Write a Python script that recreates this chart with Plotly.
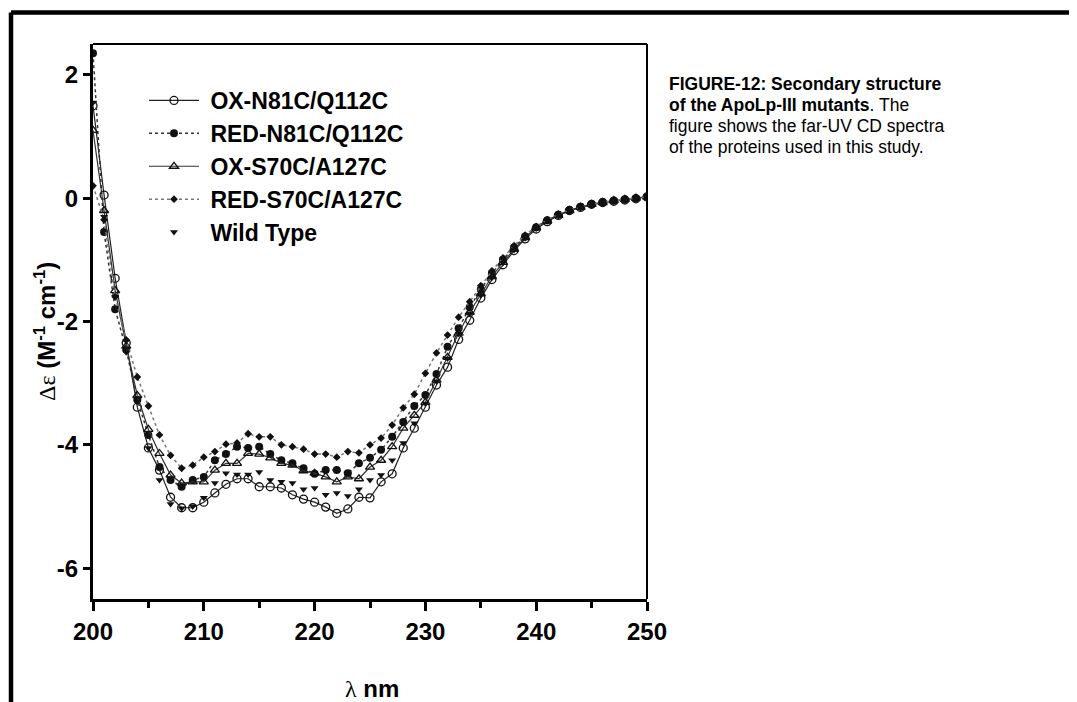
import plotly.graph_objects as go

wavelength = list(range(200, 251))

ox_n81c = [1.5, 0.05, -1.3, -2.35, -3.39, -4.05, -4.41, -4.85, -5.02, -5.02,
           -4.93, -4.78, -4.64, -4.55, -4.55, -4.68, -4.68, -4.70, -4.81, -4.88,
           -4.93, -5.01, -5.11, -5.04, -4.85, -4.86, -4.60, -4.47, -4.05, -3.73,
           -3.39, -3.03, -2.74, -2.29, -1.98, -1.62, -1.32, -1.08, -0.85, -0.66,
           -0.50, -0.38, -0.28, -0.20, -0.15, -0.10, -0.07, -0.05, -0.03, -0.01, 0.02]

red_n81c = [2.35, -0.55, -1.8, -2.46, -3.27, -3.84, -4.36, -4.57, -4.68, -4.57,
            -4.52, -4.25, -4.15, -4.03, -4.05, -4.03, -4.15, -4.25, -4.30, -4.38,
            -4.47, -4.41, -4.41, -4.46, -4.30, -4.21, -4.08, -3.87, -3.63, -3.37,
            -3.19, -2.85, -2.41, -2.11, -1.77, -1.48, -1.22, -1.00, -0.80, -0.62,
            -0.47, -0.36, -0.27, -0.20, -0.14, -0.10, -0.07, -0.04, -0.02, 0.00, 0.02]

ox_s70c = [1.1, -0.2, -1.5, -2.4, -3.2, -3.75, -4.14, -4.49, -4.62, -4.60,
           -4.60, -4.41, -4.30, -4.30, -4.14, -4.15, -4.21, -4.30, -4.33, -4.42,
           -4.46, -4.52, -4.60, -4.52, -4.55, -4.36, -4.25, -4.03, -3.73, -3.52,
           -3.31, -2.95, -2.58, -2.19, -1.85, -1.55, -1.27, -1.04, -0.83, -0.64,
           -0.48, -0.37, -0.28, -0.20, -0.15, -0.10, -0.07, -0.04, -0.02, 0.00, 0.02]

red_s70c = [0.2, -0.35, -1.6, -2.3, -2.9, -3.37, -3.84, -4.17, -4.38, -4.33,
            -4.20, -4.11, -3.99, -3.97, -3.82, -3.87, -3.87, -4.00, -4.03, -4.07,
            -4.15, -4.15, -4.20, -4.11, -4.13, -4.00, -3.89, -3.68, -3.40, -3.18,
            -2.84, -2.51, -2.22, -1.93, -1.68, -1.42, -1.18, -0.97, -0.77, -0.60,
            -0.46, -0.35, -0.26, -0.19, -0.14, -0.10, -0.06, -0.04, -0.02, 0.00, 0.02]

wild_type = [1.55, -0.3, -1.6, -2.5, -3.3, -4.05, -4.57, -4.96, -5.03, -5.00,
             -4.86, -4.62, -4.46, -4.48, -4.48, -4.44, -4.57, -4.60, -4.62, -4.72,
             -4.70, -4.81, -4.78, -4.83, -4.72, -4.57, -4.49, -4.25, -3.97, -3.65,
             -3.33, -2.97, -2.60, -2.20, -1.87, -1.57, -1.29, -1.05, -0.84, -0.65,
             -0.49, -0.37, -0.28, -0.20, -0.15, -0.10, -0.07, -0.04, -0.02, 0.00, 0.02]

series_names = ["OX-N81C/Q112C", "RED-N81C/Q112C", "OX-S70C/A127C", "RED-S70C/A127C", "Wild Type"]
x_ticks = [200, 210, 220, 230, 240, 250]
x_tick_labels = ["200", "210", "220", "230", "240", "250"]
y_ticks = [-6, -4, -2, 0, 2]
y_tick_labels = ["-6", "-4", "-2", "0", "2"]

caption_lines = [
    "<b>FIGURE-12: Secondary structure</b>",
    "<b>of the ApoLp-III mutants</b>. The",
    "figure shows the far-UV CD spectra",
    "of the proteins used in this study.",
]

SANS = "Arial, Liberation Sans, sans-serif"
SERIF = "Times New Roman, Liberation Serif, serif"
GAP = "\u00a0"

# the page body adds an 8px margin; size the figure so it fills the window
OFF = 8
W, H = 1077 - OFF, 702 - OFF


def fx(px):
    return (px - OFF) / W


def fy(py):
    return 1 - (py - OFF) / H


fig = go.Figure()

fig.add_trace(go.Scatter(
    x=wavelength, y=ox_n81c, name=GAP + series_names[0], mode="lines+markers",
    line=dict(color="#222", width=1.2),
    marker=dict(symbol="circle-open", size=8, color="#111", line=dict(width=1.3))))
fig.add_trace(go.Scatter(
    x=wavelength, y=red_n81c, name=GAP + series_names[1], mode="lines+markers",
    line=dict(color="#333", width=1.5, dash="dot"),
    marker=dict(symbol="circle", size=8, color="#111")))
fig.add_trace(go.Scatter(
    x=wavelength, y=ox_s70c, name=GAP + series_names[2], mode="lines+markers",
    line=dict(color="#333", width=1.2),
    marker=dict(symbol="triangle-up-open", size=8, color="#111", line=dict(width=1.3))))
fig.add_trace(go.Scatter(
    x=wavelength, y=red_s70c, name=GAP + series_names[3], mode="lines+markers",
    line=dict(color="#777", width=1.5, dash="dot"),
    marker=dict(symbol="diamond", size=6, color="#111")))
fig.add_trace(go.Scatter(
    x=wavelength, y=wild_type, name=GAP + series_names[4], mode="markers",
    marker=dict(symbol="triangle-down", size=7, color="#111")))

axis_font = dict(family=SANS, size=24, color="black", weight="bold")

fig.update_layout(
    width=W, height=H,
    margin=dict(l=0, r=0, t=0, b=0, autoexpand=False),
    paper_bgcolor="white", plot_bgcolor="white",
    showlegend=True,
    legend=dict(x=fx(144), y=fy(79), xanchor="left", yanchor="top",
                bgcolor="rgba(0,0,0,0)", borderwidth=0,
                font=dict(family=SANS, size=23, color="black", weight="bold"),
                itemwidth=50, tracegroupgap=0),
    xaxis=dict(domain=[fx(93), fx(647)], range=[200, 250], automargin=False,
               tickvals=x_ticks, ticktext=x_tick_labels, ticks="outside", ticklen=9, tickwidth=2.5,
               tickcolor="black", showline=True, linewidth=3, linecolor="black",
               showgrid=False, zeroline=False, tickfont=axis_font,
               minor=dict(dtick=5, ticks="outside", ticklen=6, tickwidth=2.5,
                          tickcolor="black", showgrid=False)),
    yaxis=dict(domain=[fy(599), fy(44)], range=[-6.5, 2.5], automargin=False,
               tickvals=y_ticks, ticktext=y_tick_labels, ticks="outside", ticklen=7, tickwidth=2.5,
               tickcolor="black", showline=True, linewidth=3, linecolor="black",
               showgrid=False, zeroline=False, tickfont=axis_font),
)

# top and right frame lines (thinner)
fig.add_shape(type="line", xref="x domain", yref="y domain", x0=0, x1=1, y0=1, y1=1,
              line=dict(color="black", width=2))
fig.add_shape(type="line", xref="x domain", yref="y domain", x0=1, x1=1, y0=0, y1=1,
              line=dict(color="black", width=2))

# outer page border (top and left)
fig.add_shape(type="line", xref="paper", yref="paper", x0=fx(11), x1=1, y0=fy(12.5), y1=fy(12.5),
              line=dict(color="black", width=4.5))
fig.add_shape(type="line", xref="paper", yref="paper", x0=fx(11), x1=fx(11), y0=0, y1=fy(12.5),
              line=dict(color="black", width=4.5))

# axis titles
fig.add_annotation(
    xref="paper", yref="paper", x=fx(45), y=fy(332), xanchor="center", yanchor="middle",
    showarrow=False, textangle=-90,
    text=f'<span style="font-family:{SERIF};font-weight:normal">Δε</span> <b>(M<sup>-1</sup> cm<sup>-1</sup>)</b>',
    font=dict(family=SANS, size=24, color="black"))
fig.add_annotation(
    xref="paper", yref="paper", x=fx(372), y=fy(688), xanchor="center", yanchor="middle",
    showarrow=False,
    text=f'<span style="font-family:{SERIF};font-weight:normal">λ</span> <b>nm</b>',
    font=dict(family=SANS, size=24, color="black"))

# caption
for i, line in enumerate(caption_lines):
    fig.add_annotation(
        xref="paper", yref="paper", x=fx(667), y=fy(84 + 21 * i),
        xanchor="left", yanchor="middle", showarrow=False, align="left",
        text=line, font=dict(family=SANS, size=17.5, color="black"))

fig.write_html("out.html")
